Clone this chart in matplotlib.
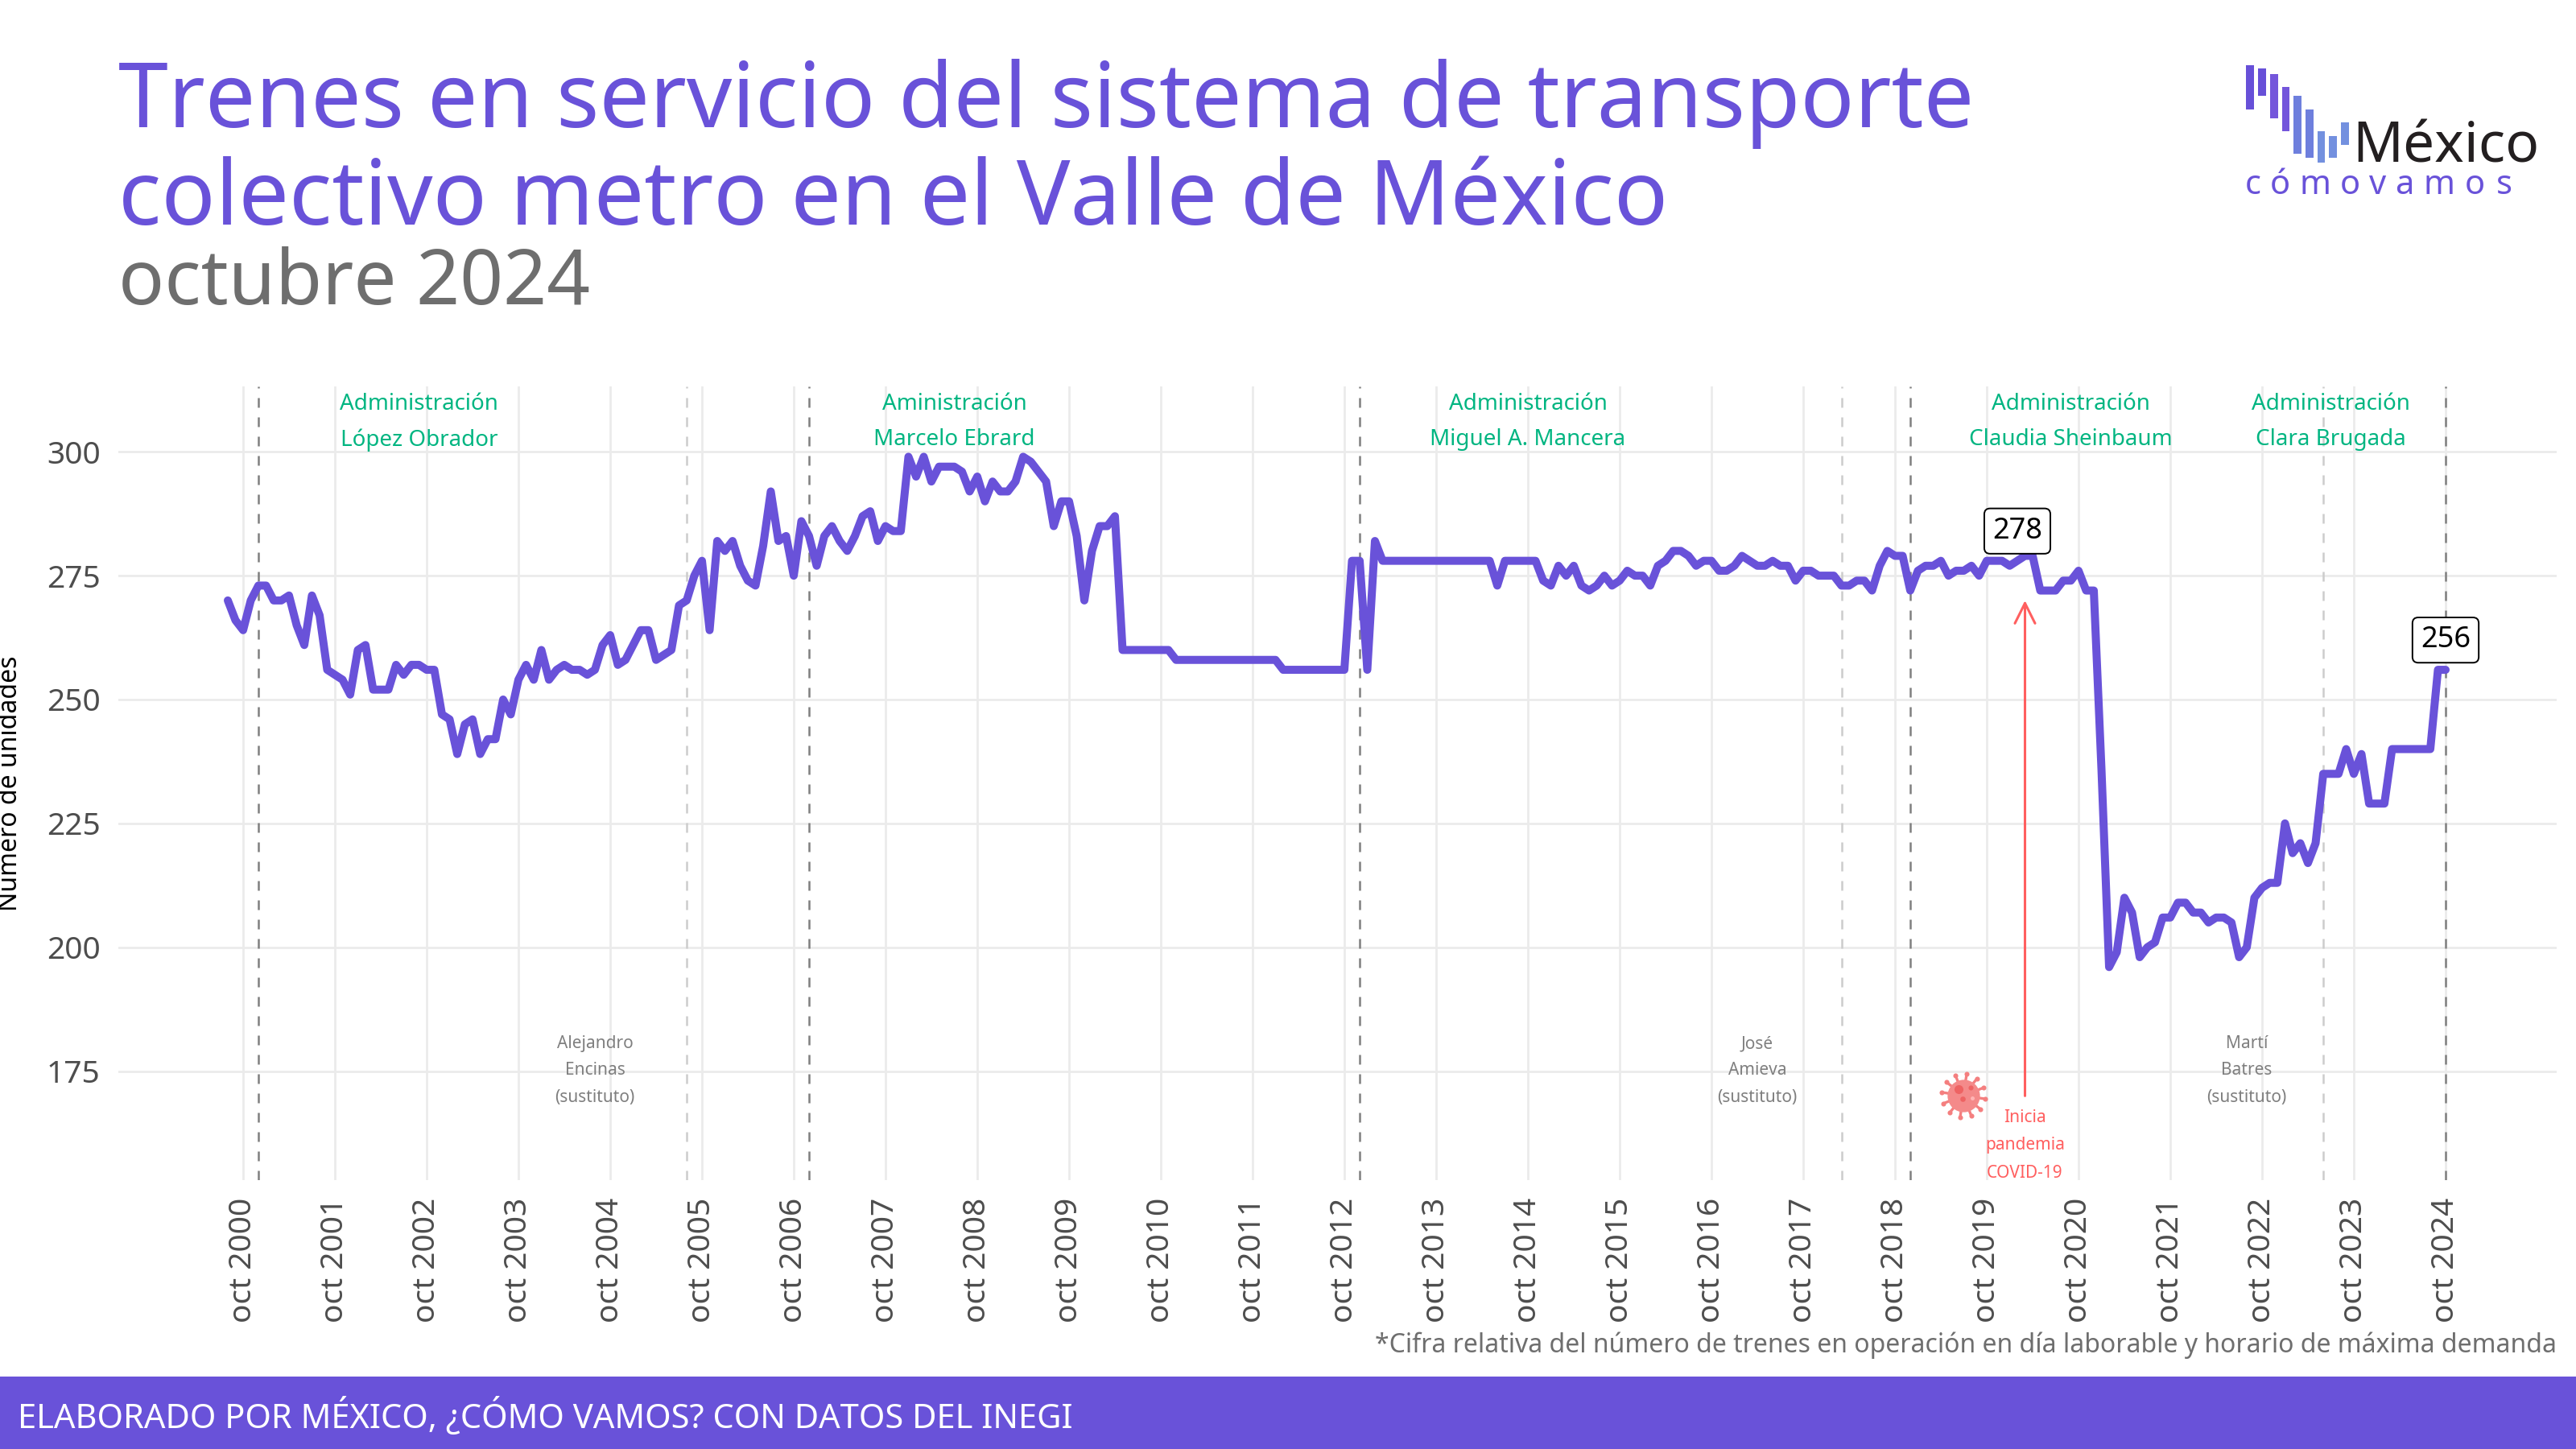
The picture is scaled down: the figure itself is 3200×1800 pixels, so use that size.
import matplotlib
matplotlib.use("Agg")
import matplotlib.pyplot as plt
from matplotlib.patches import Circle, Rectangle

PURPLE = "#6952D9"
GREEN = "#00B581"
RED = "#FF5F5F"
GREY = "#7F7F7F"
FONT = "Noto Sans"

# trenes en servicio, mensual, ago 2000 a oct 2024
trenes_2000_2004 = [270, 266, 264, 270, 273, 273, 270, 270, 271, 265, 261, 271, 267, 256, 255, 254, 251, 260, 261, 252,
                    252, 252, 257, 255, 257, 257, 256, 256, 247, 246, 239, 245, 246, 239, 242, 242, 250, 247, 254, 257,
                    254, 260, 254, 256, 257, 256, 256, 255, 256, 261, 263, 257, 258, 261, 264, 264, 258, 259, 260]
trenes_2005_2009 = [269, 270, 275, 278, 264, 282, 280, 282, 277, 274, 273, 281, 292, 282, 283, 275, 286, 283, 277, 283,
                    285, 282, 280, 283, 287, 288, 282, 285, 284, 284, 299, 295, 299, 294, 297, 297, 297, 296, 292, 295,
                    290, 294, 292, 292, 294, 299, 298, 296, 294, 285, 290, 290, 283, 270, 280, 285, 285, 287]
trenes_2010_2012 = [260] * 7 + [258] * 14 + [256] * 9 + [278, 278, 256, 282]
trenes_2013_2017 = [278] * 15 + [273] + [278] * 5 + [274, 273, 277, 275, 277, 273, 272, 273, 275, 273, 274, 276, 275,
                    275, 273, 277, 278, 280, 280, 279, 277, 278, 278, 276, 276, 277, 279, 278, 277, 277, 278, 277, 277,
                    274, 276, 276, 275, 275, 275, 273, 273, 274, 274, 272, 277, 280, 279, 279]
trenes_2018_2024 = [272, 276, 277, 277, 278, 275, 276, 276, 277, 275, 278, 278, 278, 277, 278, 279, 279, 272, 272, 272,
                    274, 274, 276, 272, 272, 236, 196, 199, 210, 207, 198, 200, 201, 206, 206, 209, 209, 207, 207, 205,
                    206, 206, 205, 198, 200, 210, 212, 213, 213, 225, 219, 221, 217, 221, 235, 235, 235, 240, 235, 239,
                    229, 229, 229, 240, 240, 240, 240, 240, 240, 256, 256]
trenes = trenes_2000_2004 + trenes_2005_2009 + trenes_2010_2012 + trenes_2013_2017 + trenes_2018_2024
meses = list(range(len(trenes)))

# indice del mes de cada cambio de gobierno
cambios_jefe = [4, 76, 148, 220, 290]
cambios_sustituto = [60, 211, 274]

anios = list(range(2000, 2025))
etiquetas_x = ["oct %d" % a for a in anios]
ticks_x = [2 + 12 * k for k in range(len(anios))]
ticks_y = [175, 200, 225, 250, 275, 300]

W, H = 3200, 1800


def fx(px):
    return px / W


def fy(py):
    return 1 - py / H


fig = plt.figure(figsize=(16, 9), dpi=200, facecolor="white")
plt.rcParams["font.family"] = [FONT, "DejaVu Sans"]

ax = fig.add_axes([fx(147), fy(1466), fx(3176 - 147), (1466 - 480) / H])
ax.set_xlim((147 - 283) / 9.5, (3176 - 283) / 9.5)
ax.set_ylim(153, 313.2)
for s in ax.spines.values():
    s.set_visible(False)
ax.grid(True, color="#EBEBEB", lw=1.0)
ax.set_axisbelow(True)
ax.set_xticks(ticks_x)
ax.set_xticklabels(etiquetas_x, rotation=90, fontsize=14, color="#4D4D4D", fontweight="light")
ax.set_yticks(ticks_y)
ax.set_yticklabels([str(v) for v in ticks_y], fontsize=14, color="#4D4D4D", fontweight="light")
ax.tick_params(length=0, pad=8)
ax.set_ylabel("Número de unidades", fontsize=11.5, color="black")
ax.yaxis.set_label_coords(fx(29 - 147) * W / (3176 - 147), 0.5)

for m in cambios_sustituto:
    ax.axvline(m, color="#CCCCCC", lw=0.9, ls=(0, (4.8, 4.8)), zorder=2)
for m in cambios_jefe:
    ax.axvline(m, color=GREY, lw=0.9, ls=(0, (4.8, 4.8)), zorder=2)

ax.plot(meses, trenes, color=PURPLE, lw=3.6, solid_joinstyle="round", solid_capstyle="round", zorder=3)

# nombres de administraciones
for x, l1, l2 in [(25, "Administración", "López Obrador"), (95, "Aministración", "Marcelo Ebrard"),
                  (170, "Administración", "Miguel A. Mancera"), (241, "Administración", "Claudia Sheinbaum"),
                  (275, "Administración", "Clara Brugada")]:
    ax.text(x, 309.7, l1, color=GREEN, fontsize=10, fontweight="bold", ha="center", va="center")
    ax.text(x, 302.4, l2, color=GREEN, fontsize=10, fontweight="bold", ha="center", va="center")

for x, txt in [(48, "Alejandro\nEncinas\n(sustituto)"), (200, "José\nAmieva\n(sustituto)"), (264, "Martí\nBatres\n(sustituto)")]:
    for j, linea in enumerate(txt.split("\n")):
        ax.text(x, 180.5 - 5.4 * j, linea, color=GREY, fontsize=7.5, fontweight="bold", ha="center", va="center")

# pandemia
ax.annotate("", xy=(235, 270), xytext=(235, 170),
            arrowprops=dict(arrowstyle="->,head_length=0.9,head_width=0.45", color=RED, lw=1.1, shrinkA=0, shrinkB=0))
for j, linea in enumerate(["Inicia", "pandemia", "COVID-19"]):
    ax.text(235, 165.6 - 5.6 * j, linea, color=RED, fontsize=7.5, fontweight="bold", ha="center", va="center")

# etiquetas de valor
box = dict(boxstyle="round,pad=0.28,rounding_size=0.2", fc="white", ec="black", lw=0.7)
ax.text(234, 284, "278", fontsize=13, fontweight="bold", color="black", ha="center", va="center", bbox=box, zorder=5)
ax.text(290, 262, "256", fontsize=13, fontweight="bold", color="black", ha="center", va="center", bbox=box, zorder=5)

# icono del virus
cx, cy = 2439, 1361
asp = H / W
for k in range(12):
    import math
    t = 2 * math.pi * k / 12 + 0.15
    fig.add_artist(plt.Line2D([fx(cx), fx(cx + 26 * math.cos(t))], [fy(cy), fy(cy + 26 * math.sin(t))],
                              color="#F47F7F", lw=1.2, zorder=6))
    fig.add_artist(Circle((cx + 26 * math.cos(t), H - cy - 26 * math.sin(t)), 3.2, fc="#F47F7F", ec="none",
                          transform=fig.dpi_scale_trans.__class__(200 / 1.0) if False else None, zorder=6) if False else plt.Line2D(
        [fx(cx + 27 * math.cos(t))], [fy(cy + 27 * math.sin(t))], marker="o", ms=2.2, color="#F47F7F", mec="none", zorder=6))
fig.add_artist(plt.Line2D([fx(cx)], [fy(cy)], marker="o", ms=14.5, color="#F48A8A", mec="none", zorder=7))
for dx, dy, ms, col in [(-6, -8, 4, "#EE6363"), (9, -10, 2.2, "#EE6363"), (-1, 4, 2.4, "#EE6363"), (11, 3, 1.8, "#FFB5B5")]:
    fig.add_artist(plt.Line2D([fx(cx + dx)], [fy(cy + dy)], marker="o", ms=ms, color=col, mec="none", zorder=8))

# titulo
fig.text(fx(147), fy(158), "Trenes en servicio del sistema de transporte", color=PURPLE, fontsize=40, fontweight="bold", va="baseline")
fig.text(fx(147), fy(279), "colectivo metro en el Valle de México", color=PURPLE, fontsize=40, fontweight="bold", va="baseline")
fig.text(fx(147), fy(378), "octubre 2024", color="#6E6E6E", fontsize=34, va="baseline")

# logo
barras = [(270, 92, 257, "#6750D8"), (315, 106, 207, "#6750D8"), (360, 125, 290, "#7456DB"), (404, 174, 340, "#7456DB"),
          (448, 208, 422, "#6E7FDD"), (492, 257, 439, "#6E7FDD"), (536, 340, 456, "#7390DF"), (580, 357, 439, "#7390DF"),
          (625, 306, 389, "#7390DF")]
for x0, y0, y1, col in barras:
    fig.add_artist(Rectangle((fx(2700 + x0 / 3), fy(50 + y1 / 3)), 29 / 3 / W, (y1 - y0) / 3 / H, fc=col, ec="none",
                             transform=fig.transFigure))
fig.text(fx(2922), fy(201), "México", color="#231F20", fontsize=25, fontweight="bold", va="baseline")
for i, (c, w) in enumerate(zip("cómovamos", ["light"] * 4 + ["bold"] * 5)):
    x = 2700 + [297, 398, 528, 657, 762, 860, 990, 1123, 1232][i] / 3
    fig.text(fx(x), fy(241), c, color=PURPLE, fontsize=15, fontweight=w, ha="center", va="baseline")

# pie
fig.text(fx(3176), fy(1671), "*Cifra relativa del número de trenes en operación en día laborable y horario de máxima demanda",
         color="#6E6E6E", fontsize=11.5, fontweight="bold", ha="right", va="center")
fig.add_artist(Rectangle((0, 0), 1, 90 / H, fc=PURPLE, ec="none", transform=fig.transFigure))
fig.text(fx(22), fy(1760), "ELABORADO POR MÉXICO, ¿CÓMO VAMOS? CON DATOS DEL INEGI", color="white", fontsize=15, fontweight="bold", va="center")

fig.savefig("out.png", dpi=200)
